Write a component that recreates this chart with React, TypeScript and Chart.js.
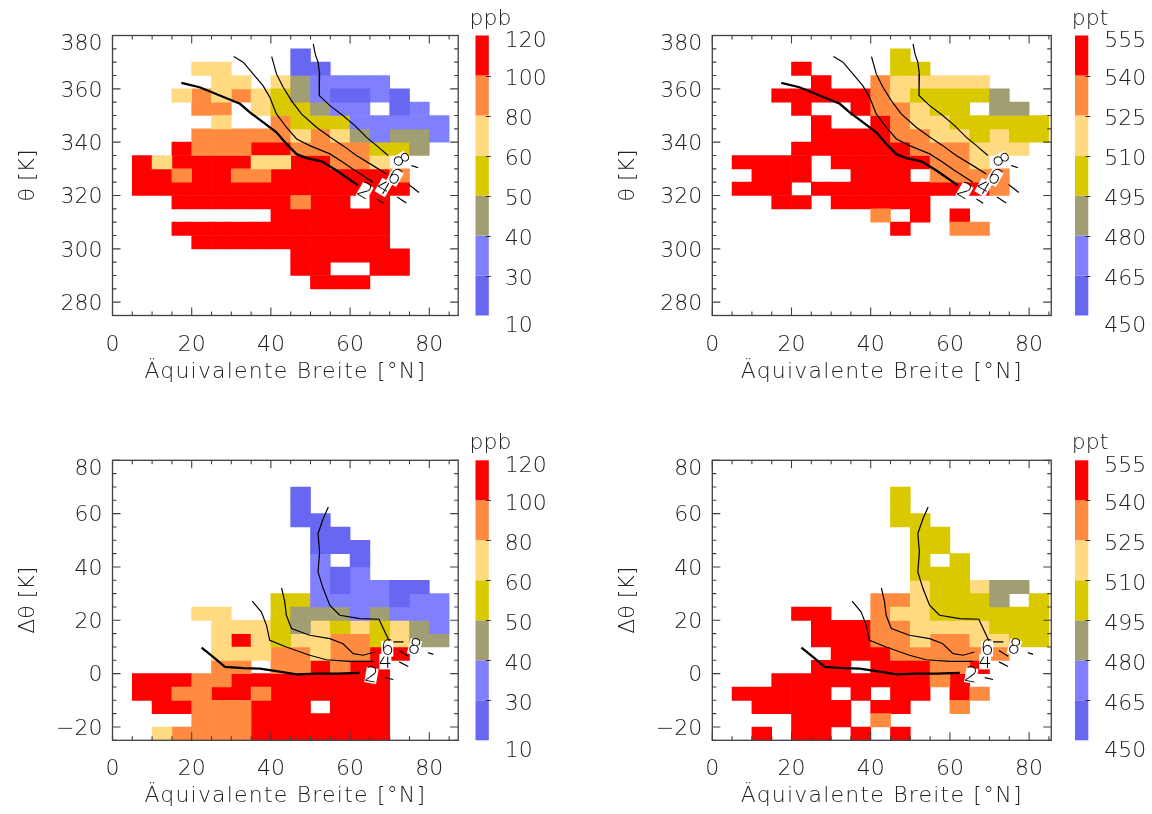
import React, { useEffect, useRef } from 'react';
import { Chart, registerables } from 'chart.js';

Chart.register(...registerables);

// Equivalent-latitude bins are 5° wide; columns 0..16 cover 0–85 °N.
const BIN = 5;

// Colour classes, lowest to highest mixing ratio.
const classColors = ['#6767f2', '#8080ff', '#a29e73', '#dbc900', '#ffda80', '#ff8b40', '#ff0000'];
const ppbLevels = [10, 30, 40, 50, 60, 80, 100, 120];
const pptLevels = [450, 465, 480, 495, 510, 525, 540, 555];

const latTicks = [0, 20, 40, 60, 80];
const thetaTicks = [280, 300, 320, 340, 360, 380];
const dThetaTicks = [-20, 0, 20, 40, 60, 80];

// Gridded class per cell (1 = lowest class … 7 = highest, '.' = no data).
// Row 0 is the uppermost 5 K layer.
const o3Theta = [
  '.................',
  '.........1.......',
  '....55...11......',
  '.....55.532222...',
  '...565654321121..',
  '....66.544322.12.',
  '.....5..644422222',
  '....6666656532332',
  '...7666776666443.',
  '.7577775577665...',
  '.77677667777776..',
  '.77777777777777..',
  '...777777677.7...',
  '........777777...',
  '...77777777777...',
  '....7777777777...',
  '.........777777..',
  '.........77..77..',
  '..........777....',
  '.................',
  '.................',
];

const n2oTheta = [
  '.................',
  '.........4.......',
  '....7....44......',
  '.....7..655555...',
  '...777776544443..',
  '....7..766544.33.',
  '.....7..765544444',
  '.....777766554544',
  '....777777666555.',
  '.7777.77777665...',
  '..777..777.6666..',
  '.777.7777777776..',
  '...77.77777......',
  '........6.7.7....',
  '.........7..66...',
  '.................',
  '.................',
  '.................',
  '.................',
  '.................',
  '.................',
];

const o3DTheta = [
  '.................',
  '.................',
  '.........1.......',
  '.........1.......',
  '.........11......',
  '..........11.....',
  '..........111....',
  '..........2.1....',
  '..........212....',
  '..........212211.',
  '........442222122',
  '....55..433323222',
  '.....555435454532',
  '.....575455664533',
  '.....5556656677..',
  '.....66.667677...',
  '.7776677777777...',
  '.7766776777777...',
  '..77666777.777...',
  '....6667777777...',
  '..566667777777...',
];

const n2oDTheta = [
  '.................',
  '.................',
  '.........4.......',
  '.........4.......',
  '.........44......',
  '..........44.....',
  '..........44.....',
  '..........4.4....',
  '..........444....',
  '..........544533.',
  '........6654443.4',
  '....77..655444444',
  '.....777665555444',
  '.....777665665544',
  '......777666666..',
  '.....77.777667...',
  '...7777777767....',
  '.77777.7.77.76...',
  '..77777.77..6....',
  '....777.6........',
  '..7.77.7.7.......',
];

type Pt = [number, number];

// PV contours (2, 4, 6, 8 PVU) in equivalent latitude / theta coordinates.
const pvTheta2: Pt[] = [[17.4, 362.2], [22, 360.6], [27.1, 357.5], [32.2, 354.4], [34.7, 351.2], [38, 347.5], [41.4, 343.7], [43.9, 339.4], [46.5, 335.5], [49, 334], [52.8, 332.8], [56.6, 329.4], [62, 323.8]];
const pvTheta4: Pt[] = [[30.6, 372.1], [33, 370], [35.5, 365.6], [38, 361.2], [39.7, 356.9], [41.4, 350.6], [43.9, 345.6], [46.5, 341.2], [49.8, 338.7], [54.9, 335.6], [58.2, 332.5], [61.2, 329.4], [65.8, 325]];
const pvTheta6: Pt[] = [[40.2, 372.1], [41.4, 365.6], [43.1, 360.6], [45.2, 355.6], [47.7, 350.6], [51.5, 345.6], [54.9, 341.9], [58.2, 338.7], [61.6, 335], [65.8, 331.2], [69.2, 328.1]];
const pvTheta8: Pt[] = [[50.7, 376.9], [51.2, 373], [51.9, 370], [52.3, 365.6], [52.2, 357.5], [54.9, 353.7], [58.2, 350], [61.2, 346.2], [64.1, 341.9], [66.7, 338.7], [69.6, 335]];
const pvThetaTails: Pt[][] = [
  [[66.7, 318.7], [68.4, 317.1]],
  [[71.9, 319.4], [74.2, 317.2]],
  [[74.8, 324.1], [77.4, 321.1]],
  [[75.5, 331.2], [77.2, 330.4]],
];
// label text, position and rotation (degrees)
const pvThetaLabels: [string, number, number, number][] = [
  ['2', 63.7, 321.6, 30],
  ['4', 68.5, 323.1, 30],
  ['6', 71.3, 326.9, 30],
  ['8', 72.7, 333.4, 60],
];

const pvDTheta2: Pt[] = [[22.5, 9.75], [25.4, 6.25], [28.4, 2.5], [33, 2.1], [37.2, 1.9], [41.4, 0.9], [46.5, -0.25], [51.5, 0], [56.6, 0], [62.5, 0.25]];
const pvDTheta4: Pt[] = [[35.3, 27.2], [37.6, 23.1], [38.9, 18.1], [39.7, 12.5], [43.9, 10], [49.8, 6.9], [54, 5.2], [59.9, 4.6], [65.8, 4.6]];
const pvDTheta6: Pt[] = [[42.7, 32.2], [43.5, 26.9], [43.9, 21.9], [45.2, 16.9], [49.8, 14.4], [54.9, 13.1], [58.2, 11.2], [60.8, 7.5], [63.3, 6.9], [66.2, 8.1]];
const pvDTheta8: Pt[] = [[54.5, 62.5], [53.2, 58.1], [51.9, 52.5], [52.3, 45.6], [51.9, 38.1], [53.2, 31.9], [54.9, 25.6], [57.4, 21.9], [62.5, 20.6], [67.3, 20.4], [68.8, 15.6], [70, 11.9], [73.5, 11.9]];
const pvDThetaTails: Pt[][] = [
  [[68.8, -1.5], [70.9, -2.2]],
  [[72.4, 4.4], [74.7, 2.7]],
  [[72.4, 8.7], [74.7, 6.5]],
  [[79.7, 7.9], [81, 7.2]],
];
const pvDThetaLabels: [string, number, number, number][] = [
  ['2', 65.4, -0.6, 10],
  ['4', 68.9, 4.6, 0],
  ['6', 69.4, 9.4, 0],
  ['8', 76.3, 10, 15],
];

const FONT = '"DejaVu Sans", "Liberation Sans", sans-serif';
const PX_PER_DEG = 3.96;

type PanelDef = {
  grid: string[];
  yMin: number;
  yMax: number;
  xMax: number;
  yTicks: number[];
  yTitle: string;
  levels: number[];
  unit: string;
  left: number;
  top: number;
  height: number;
  cbX: number;
  contours: Pt[][];
  tails: Pt[][];
  labels: [string, number, number, number][];
};

const panels: PanelDef[] = [
  { grid: o3Theta, yMin: 275, yMax: 380, xMax: 87.3, yTicks: thetaTicks, yTitle: 'θ [K]', levels: ppbLevels, unit: 'ppb', left: 112.5, top: 35.5, height: 280, cbX: 475.5, contours: [pvTheta2, pvTheta4, pvTheta6, pvTheta8], tails: pvThetaTails, labels: pvThetaLabels },
  { grid: n2oTheta, yMin: 275, yMax: 380, xMax: 85.6, yTicks: thetaTicks, yTitle: 'θ [K]', levels: pptLevels, unit: 'ppt', left: 712.3, top: 35.5, height: 280, cbX: 1075, contours: [pvTheta2, pvTheta4, pvTheta6, pvTheta8], tails: pvThetaTails, labels: pvThetaLabels },
  { grid: o3DTheta, yMin: -25, yMax: 80, xMax: 87.3, yTicks: dThetaTicks, yTitle: 'Δθ [K]', levels: ppbLevels, unit: 'ppb', left: 112.5, top: 460.3, height: 280, cbX: 475.5, contours: [pvDTheta2, pvDTheta4, pvDTheta6, pvDTheta8], tails: pvDThetaTails, labels: pvDThetaLabels },
  { grid: n2oDTheta, yMin: -25, yMax: 80, xMax: 85.6, yTicks: dThetaTicks, yTitle: 'Δθ [K]', levels: pptLevels, unit: 'ppt', left: 712.3, top: 460.3, height: 280, cbX: 1075, contours: [pvDTheta2, pvDTheta4, pvDTheta6, pvDTheta8], tails: pvDThetaTails, labels: pvDThetaLabels },
];

const W = 1152;
const H = 814;

function cellsByClass(grid: string[], yTop: number) {
  const sets: { x: number; y: [number, number] }[][] = classColors.map(() => []);
  grid.forEach((row, r) => {
    for (let c = 0; c < row.length; c++) {
      const ch = row[c];
      if (ch === '.') continue;
      sets[Number(ch) - 1].push({ x: c * BIN + BIN / 2, y: [yTop - BIN * (r + 1), yTop - BIN * r] });
    }
  });
  return sets;
}

function axesPlugin(p: PanelDef) {
  return {
    id: 'idlAxes',
    afterDraw(chart: any) {
      const { ctx, chartArea: a } = chart;
      const xs = chart.scales.x;
      const ys = chart.scales.y;
      const cb = chart.scales.cb;
      ctx.save();

      // contour labels on a small cleared patch
      ctx.font = `200 21px ${FONT}`;
      ctx.textAlign = 'center';
      ctx.textBaseline = 'middle';
      for (const [txt, x, y, rot] of p.labels) {
        ctx.save();
        ctx.translate(xs.getPixelForValue(x), ys.getPixelForValue(y));
        ctx.rotate((rot * Math.PI) / 180);
        ctx.fillStyle = '#fff';
        ctx.fillRect(-6, -7.5, 12, 15.5);
        ctx.fillStyle = '#000';
        ctx.fillText(txt, 0, 1);
        ctx.restore();
      }

      // frame
      ctx.strokeStyle = '#404040';
      ctx.lineWidth = 1.3;
      ctx.strokeRect(a.left, a.top, a.right - a.left, a.bottom - a.top);

      // inward ticks on all four sides
      ctx.beginPath();
      for (let v = 0; v <= p.xMax + 1e-6; v += 5) {
        const px = xs.getPixelForValue(v);
        const len = v % 20 === 0 ? 8 : 4;
        ctx.moveTo(px, a.bottom);
        ctx.lineTo(px, a.bottom - len);
        ctx.moveTo(px, a.top);
        ctx.lineTo(px, a.top + len);
      }
      for (let v = p.yMin; v <= p.yMax + 1e-6; v += 5) {
        const py = ys.getPixelForValue(v);
        const len = v % 20 === 0 ? 8 : 4;
        ctx.moveTo(a.left, py);
        ctx.lineTo(a.left + len, py);
        ctx.moveTo(a.right, py);
        ctx.lineTo(a.right - len, py);
      }
      ctx.lineWidth = 1.1;
      ctx.stroke();

      // tick labels
      ctx.fillStyle = '#202020';
      ctx.font = `200 22px ${FONT}`;
      ctx.textAlign = 'center';
      ctx.textBaseline = 'alphabetic';
      for (const v of latTicks) {
        ctx.fillText(String(v).replace('-', '\u2212'), xs.getPixelForValue(v), a.bottom + 35);
      }
      ctx.textAlign = 'right';
      ctx.textBaseline = 'middle';
      p.yTicks.forEach((v, i) => {
        const off = i === p.yTicks.length - 1 ? 9 : 2;
        ctx.fillText(String(v).replace('-', '\u2212'), a.left - 10, ys.getPixelForValue(v) + off);
      });

      // axis titles
      ctx.textAlign = 'center';
      ctx.textBaseline = 'alphabetic';
      (ctx as any).letterSpacing = '1.2px';
      ctx.fillText('Äquivalente Breite [°N]', (a.left + a.right) / 2, a.bottom + 62);
      (ctx as any).letterSpacing = '0px';
      ctx.save();
      ctx.translate(p.left - 84, (a.top + a.bottom) / 2);
      ctx.rotate(-Math.PI / 2);
      ctx.textBaseline = 'middle';
      ctx.fillText(p.yTitle, 0, 0);
      ctx.restore();

      // colour bar
      const cbW = 13.3;
      for (let i = 0; i < classColors.length; i++) {
        const y0 = cb.getPixelForValue(i + 1);
        const y1 = cb.getPixelForValue(i);
        ctx.fillStyle = classColors[i];
        ctx.fillRect(p.cbX, y0, cbW, y1 - y0);
      }
      ctx.strokeStyle = '#303030';
      ctx.lineWidth = 1;
      ctx.beginPath();
      for (let i = 1; i < classColors.length; i++) {
        const y = Math.round(cb.getPixelForValue(i)) + 0.5;
        ctx.moveTo(p.cbX + cbW - 3, y);
        ctx.lineTo(p.cbX + cbW + 2, y);
      }
      ctx.stroke();
      ctx.fillStyle = '#202020';
      ctx.textAlign = 'left';
      ctx.textBaseline = 'middle';
      p.levels.forEach((lv, i) => {
        const off = i === 0 ? 11 : i === p.levels.length - 1 ? 6 : 4;
        ctx.fillText(String(lv), p.cbX + cbW + 16, cb.getPixelForValue(i) + off);
      });
      ctx.textAlign = 'center';
      ctx.textBaseline = 'alphabetic';
      ctx.fillText(p.unit, p.cbX + 15, a.top - 11);

      ctx.restore();
    },
  };
}

function buildConfig(p: PanelDef): any {
  const cellSets = cellsByClass(p.grid, p.yMax);
  const barSets = cellSets.map((data, i) => ({
    type: 'bar',
    data,
    backgroundColor: classColors[i],
    borderWidth: 0,
    grouped: false,
    barPercentage: 1,
    categoryPercentage: 1,
    order: 2,
  }));
  const lineSets = [...p.contours, ...p.tails].map((pts, i) => ({
    type: 'line',
    data: pts.map(([x, y]) => ({ x, y })),
    borderColor: '#000',
    borderWidth: i === 0 ? 2.3 : 1.2,
    pointRadius: 0,
    fill: false,
    tension: 0,
    order: 1,
  }));
  const right = p.left + p.xMax * PX_PER_DEG;
  return {
    type: 'bar',
    data: { datasets: [...barSets, ...lineSets] },
    options: {
      responsive: false,
      animation: false,
      events: [],
      layout: { padding: { left: p.left, top: p.top, right: W - right, bottom: H - (p.top + p.height) } },
      plugins: { legend: { display: false }, tooltip: { enabled: false } },
      scales: {
        x: { type: 'linear', min: 0, max: p.xMax, offset: false, display: false, ticks: { stepSize: 20 } },
        y: { type: 'linear', min: p.yMin, max: p.yMax, display: false },
        cb: { type: 'linear', min: 0, max: classColors.length, display: false, position: 'right' },
      },
    },
    plugins: [axesPlugin(p)],
  };
}

function Panel({ p }: { p: PanelDef }) {
  const ref = useRef<HTMLCanvasElement>(null);
  useEffect(() => {
    const chart = new Chart(ref.current as HTMLCanvasElement, buildConfig(p));
    return () => chart.destroy();
  }, [p]);
  return (
    <canvas
      ref={ref}
      width={W}
      height={H}
      style={{ position: 'absolute', left: 0, top: 0, width: W, height: H }}
    />
  );
}

export default function App() {
  return (
    <div style={{ position: 'absolute', left: 0, top: 0, width: W, height: H, background: '#fff', overflow: 'hidden' }}>
      {panels.map((p, i) => (
        <Panel key={i} p={p} />
      ))}
    </div>
  );
}
